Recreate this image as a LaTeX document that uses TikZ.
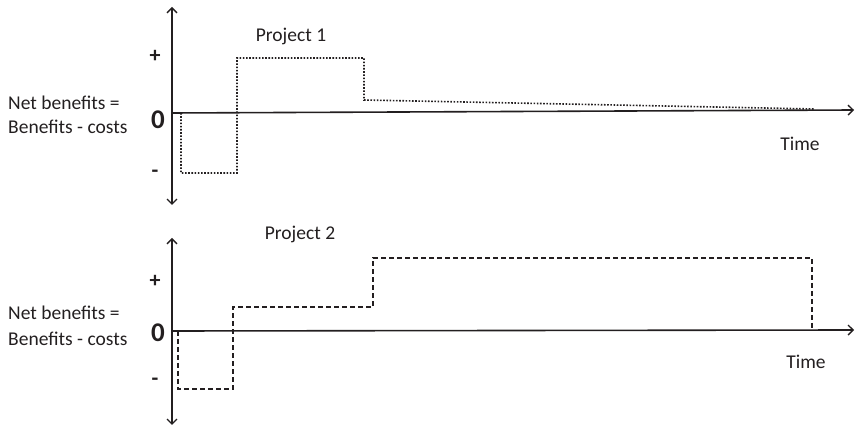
\documentclass[tikz,border=0pt]{standalone}
\usepackage{fontspec}
\setmainfont{Carlito}
\usetikzlibrary{arrows.meta}
\definecolor{ink}{HTML}{231F20}
\begin{document}
\begin{tikzpicture}[x=1pt,y=-1pt,
  axis/.style={draw=ink,line width=1.6pt},
  tip/.style={-{Straight Barb[length=5pt,width=10pt,line width=1.4pt]}},
  lbl/.style={text=ink,font=\fontsize{19.5}{22}\selectfont,inner sep=0pt},
  sign/.style={text=ink,font=\fontsize{22}{24}\selectfont\bfseries,inner sep=0pt},
  zero/.style={text=ink,font=\fontsize{27}{29}\selectfont\bfseries,inner sep=0pt},
  dotline/.style={draw=ink,line width=1.6pt,dash pattern=on 1.6pt off 1.6pt},
  dashline/.style={draw=ink,line width=1.5pt,dash pattern=on 5pt off 3pt}]
\useasboundingbox (0,0) rectangle (855,427);
% ---- top panel ----
\coordinate (t1top) at (172,7);
\coordinate (t1bot) at (172,205);
\coordinate (t1o) at (172,113);
\coordinate (t1end) at (854,110);
\draw[axis,tip] (t1o) -- (t1top);
\draw[axis,tip] (t1o) -- (t1bot);
\draw[axis,tip] (t1o) -- (t1end);
\node[sign] (p1plus) at (155,56) {+};
\node[zero] (p1zero) at (158,120) {0};
\node[sign] (p1minus) at (155,174) {-};
\node[lbl,anchor=west] (p1l1) at (8,103) {Net benefits =};
\node[lbl,anchor=west] (p1l2) at (8,127) {Benefits - costs};
\node[lbl] (p1title) at (291,36) {Project 1};
\node[lbl] (p1time) at (800,144) {Time};
\draw[dotline] (181,113) -- (181,173) -- (237,173) -- (237,58) -- (364,58) -- (364,100) -- (815,109);
% ---- bottom panel ----
\coordinate (t2top) at (172,238);
\coordinate (t2bot) at (172,425);
\coordinate (t2o) at (172,331);
\coordinate (t2end) at (854,330);
\draw[axis,tip] (t2o) -- (t2top);
\draw[axis,tip] (t2o) -- (t2bot);
\draw[axis,tip] (t2o) -- (t2end);
\node[sign] (p2plus) at (155,281) {+};
\node[zero] (p2zero) at (158,333) {0};
\node[sign] (p2minus) at (155,382) {-};
\node[lbl,anchor=west] (p2l1) at (8,313) {Net benefits =};
\node[lbl,anchor=west] (p2l2) at (8,339) {Benefits - costs};
\node[lbl] (p2title) at (300,234) {Project 2};
\node[lbl] (p2time) at (806,362) {Time};
\draw[dashline] (178,331) -- (178,389) -- (233,389) -- (233,307) -- (373,307) -- (373,258) -- (812,258) -- (812,330);
\end{tikzpicture}
\end{document}
